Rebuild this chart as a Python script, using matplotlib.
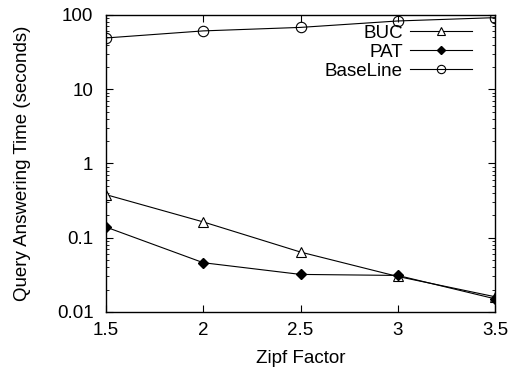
import matplotlib
matplotlib.use("Agg")
import matplotlib.pyplot as plt
from matplotlib.ticker import LogLocator, NullFormatter

plt.rcParams["font.family"] = ["Liberation Sans", "DejaVu Sans"]
plt.rcParams["font.size"] = 13.5

zipf = [1.5, 2.0, 2.5, 3.0, 3.5]
buc = [0.38, 0.163, 0.064, 0.030, 0.016]
pat = [0.139, 0.046, 0.032, 0.031, 0.015]
baseline = [49, 61, 68, 83, 92]

fig = plt.figure(figsize=(5.12, 3.74), dpi=100)
ax = fig.add_axes([0.207, 0.166, 0.76, 0.794])

ax.plot(zipf, buc, color="black", lw=0.8, marker="^", ms=7,
        mfc="white", mec="black", mew=0.8, label="BUC")
ax.plot(zipf, pat, color="black", lw=0.8, marker="D", ms=5.5,
        mfc="black", mec="black", label="PAT")
ax.plot(zipf, baseline, color="black", lw=0.8, marker="o", ms=7.5,
        mfc="none", mec="black", mew=0.8, label="BaseLine")

ax.set_yscale("log")
ax.set_ylim(0.01, 100)
ax.set_xlim(1.5, 3.5)
ax.set_xticks(zipf)
ax.set_xticklabels(["1.5", "2", "2.5", "3", "3.5"])
ax.set_yticks([0.01, 0.1, 1, 10, 100])
ax.set_yticklabels(["0.01", "0.1", "1", "10", "100"])
ax.yaxis.set_minor_locator(LogLocator(base=10, subs=range(2, 10)))
ax.yaxis.set_minor_formatter(NullFormatter())

ax.tick_params(which="both", direction="in", top=True, right=True)
ax.tick_params(which="major", length=5, width=0.8)
ax.tick_params(which="minor", length=2.5, width=0.6)
ax.tick_params(axis="x", which="major", pad=7)
ax.tick_params(axis="y", which="major", pad=9)
for s in ax.spines.values():
    s.set_linewidth(1.0)

ax.set_xlabel("Zipf Factor", labelpad=8)
ax.set_ylabel("Query Answering Time (seconds)")
ax.yaxis.set_label_coords(-0.193, 0.5)

ax.legend(loc="upper right", frameon=False, markerfirst=False,
          handlelength=3.3, labelspacing=0.1, borderaxespad=0.0,
          borderpad=0.0, bbox_to_anchor=(0.941, 0.967),
          handletextpad=0.4, markerscale=0.8)

fig.savefig("out.png", dpi=100)
